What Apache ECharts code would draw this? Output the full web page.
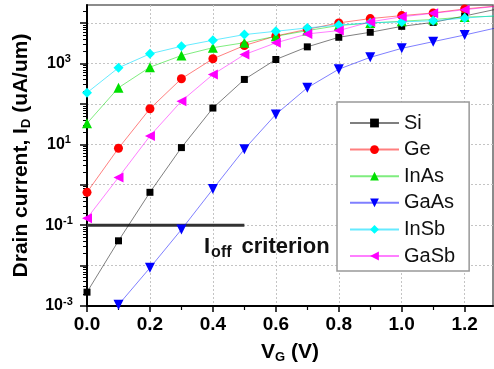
<!DOCTYPE html>
<html><head><meta charset="utf-8">
<script src="https://cdn.jsdelivr.net/npm/echarts@6/dist/echarts.min.js"></script>
<style>html,body{margin:0;padding:0;background:#fff}#c{width:494px;height:369px}</style>
</head><body><div id="c"></div>
<script>
// ---- data ----
const vg   = [0.0, 0.1, 0.2, 0.3, 0.4, 0.5, 0.6, 0.7, 0.8, 0.9, 1.0, 1.1, 1.2, 1.3];
const si   = [0.0022, 0.041, 0.65, 8.3, 79, 403, 1256, 2580, 4450, 5920, 8300, 10400, 15000, 22000];
const ge   = [0.65, 8.0, 76, 420, 1306, 2780, 4800, 7000, 10100, 12900, 15300, 17800, 22400, 26300];
const inas = [33, 251, 811, 1575, 2460, 3270, 4720, 6510, 8700, 10000, 11100, 12300, 14100, 14800];
const gaas = [null, 0.00107, 0.0088, 0.078, 0.78, 7.6, 55, 251, 723, 1420, 2370, 3470, 5070, 7600];
const insb = [189, 783, 1735, 2670, 3760, 5190, 6270, 7590, 8900, 10200, 10700, 11400, 13300, 15200];
const gasb = [0.148, 1.52, 16.1, 117, 535, 1660, 3240, 5390, 6510, 10700, 14300, 17500, 21400, 26000];
const seriesNames = ['Si', 'Ge', 'InAs', 'GaAs', 'InSb', 'GaSb'];

const xMajorTicks = [0, 0.2, 0.4, 0.6, 0.8, 1.0, 1.2];
const xMinorTicks = [0.1, 0.3, 0.5, 0.7, 0.9, 1.1];
const yMajorTicks = [0.001, 0.01, 0.1, 1, 10, 100, 1000, 10000];
const yLabelTicks = [0.001, 0.1, 10, 1000];
const yMinorTicks = [];
yMajorTicks.forEach(d => { for (let k = 2; k <= 9; k++) { const v = +(d * k).toPrecision(3); if (v < 28000) yMinorTicks.push(v); } });
const offX = [0, 0.5];
const offY = [0.1, 0.1];

const FONT = 'Liberation Sans, Arial, sans-serif';
const pair = (xs, ys) => xs.map((x, i) => [x, ys[i]]);

function mk(name, vals, symbol, color, lineColor, size, rotate) {
  return {
    name, type: 'line', data: pair(vg, vals), symbol, symbolSize: size, symbolRotate: rotate || 0,
    itemStyle: { color: color }, lineStyle: { color: lineColor, width: 1 },
    clip: true, animation: false, z: 3
  };
}

const chart = echarts.init(document.getElementById('c'), null, { renderer: 'canvas' });
chart.setOption({
  animation: false,
  textStyle: { fontFamily: FONT },
  grid: { left: 87, right: 1, top: 5, bottom: 62, show: true, borderColor: '#666', borderWidth: 1.5, containLabel: false },
  legend: {
    data: seriesNames, orient: 'vertical', left: 337, top: 102,
    padding: [11, 14, 5, 12], itemGap: 6.6, itemWidth: 49, itemHeight: 11,
    backgroundColor: '#fff', borderColor: '#999', borderWidth: 1.5, borderRadius: 0,
    textStyle: { fontSize: 20, color: '#111', fontFamily: FONT }
  },
  xAxis: [{
    type: 'value', min: 0, max: 1.29, interval: 0.2,
    axisLine: { lineStyle: { color: '#000', width: 2 } },
    axisTick: { customValues: xMajorTicks, length: 6, lineStyle: { color: '#000', width: 1.5 } },
    axisLabel: { customValues: xMajorTicks, formatter: v => v.toFixed(1), fontSize: 19, fontWeight: 'bold', color: '#000', margin: 9, fontFamily: FONT },
    splitLine: { show: true, lineStyle: { color: '#c4c4c4', type: [2, 2], width: 1 } },
    name: 'V{sub|G} (V)', nameLocation: 'middle', nameGap: 35,
    nameTextStyle: { fontSize: 21, fontWeight: 'bold', color: '#000', fontFamily: FONT,
      rich: { sub: { fontSize: 13, fontWeight: 'bold', color: '#000', fontFamily: FONT, padding: [10, 0, 0, 0] } } }
  }, {
    type: 'value', min: 0, max: 1.29, position: 'bottom',
    axisLine: { show: false }, axisLabel: { show: false }, splitLine: { show: false },
    axisTick: { customValues: xMinorTicks, length: 4, lineStyle: { color: '#000', width: 1.2 } }
  }],
  yAxis: [{
    type: 'log', logBase: 10, min: 0.001, max: 28000,
    axisLine: { lineStyle: { color: '#000', width: 2 } },
    axisTick: { customValues: yMajorTicks, length: 7, lineStyle: { color: '#000', width: 1.5 } },
    axisLabel: {
      customValues: yLabelTicks, align: 'center', margin: 28, color: '#000',
      formatter: v => '{b|10}{s|' + Math.round(Math.log10(v)) + '}',
      rich: {
        b: { fontSize: 16, fontWeight: 'bold', color: '#000', fontFamily: FONT },
        s: { fontSize: 11, fontWeight: 'bold', color: '#000', fontFamily: FONT, padding: [0, 0, 9, 0] }
      }
    },
    splitLine: { show: true, lineStyle: { color: '#c4c4c4', type: [2, 2], width: 1 } },
    name: 'Drain current, I{sub|D} (uA/um)', nameLocation: 'middle', nameGap: 54, nameRotate: 90,
    nameTextStyle: { fontSize: 21, fontWeight: 'bold', color: '#000', fontFamily: FONT,
      rich: { sub: { fontSize: 13, fontWeight: 'bold', color: '#000', fontFamily: FONT, padding: [10, 0, 0, 0] } } }
  }, {
    type: 'log', logBase: 10, min: 0.001, max: 28000, position: 'left',
    axisLine: { show: false }, axisLabel: { show: false }, splitLine: { show: false },
    axisTick: { customValues: yMinorTicks, length: 4, lineStyle: { color: '#000', width: 1 } }
  }],
  series: [
    mk('Si', si, 'rect', '#000000', 'rgba(0,0,0,0.5)', 7),
    mk('Ge', ge, 'circle', '#ff0000', 'rgba(255,0,0,0.5)', 9),
    mk('InAs', inas, 'triangle', '#00e000', 'rgba(0,220,0,0.5)', 10),
    mk('GaAs', gaas, 'triangle', '#0000ff', 'rgba(0,0,255,0.5)', 10, 180),
    mk('InSb', insb, 'diamond', '#00ffff', 'rgba(0,220,255,0.6)', 10),
    mk('GaSb', gasb, 'triangle', '#ff00ff', 'rgba(255,0,255,0.5)', 10, 90),
    { name: 'Ioff', type: 'line', data: pair(offX, offY), symbol: 'none', lineStyle: { color: '#333', width: 3 }, z: 2, silent: true }
  ],
  graphic: [{
    type: 'text', left: 204, top: 236, z: 10,
    style: {
      text: '{i|I}{o|off}{c|criterion}',
      rich: {
        i: { fontSize: 22, fontWeight: 'bold', fill: '#111', fontFamily: FONT },
        o: { fontSize: 16, fontWeight: 'bold', fill: '#111', fontFamily: FONT, padding: [12, 0, 0, 1] },
        c: { fontSize: 22, fontWeight: 'bold', fill: '#111', fontFamily: FONT, padding: [0, 0, 0, 10] }
      }
    }
  }]
});
</script></body></html>
